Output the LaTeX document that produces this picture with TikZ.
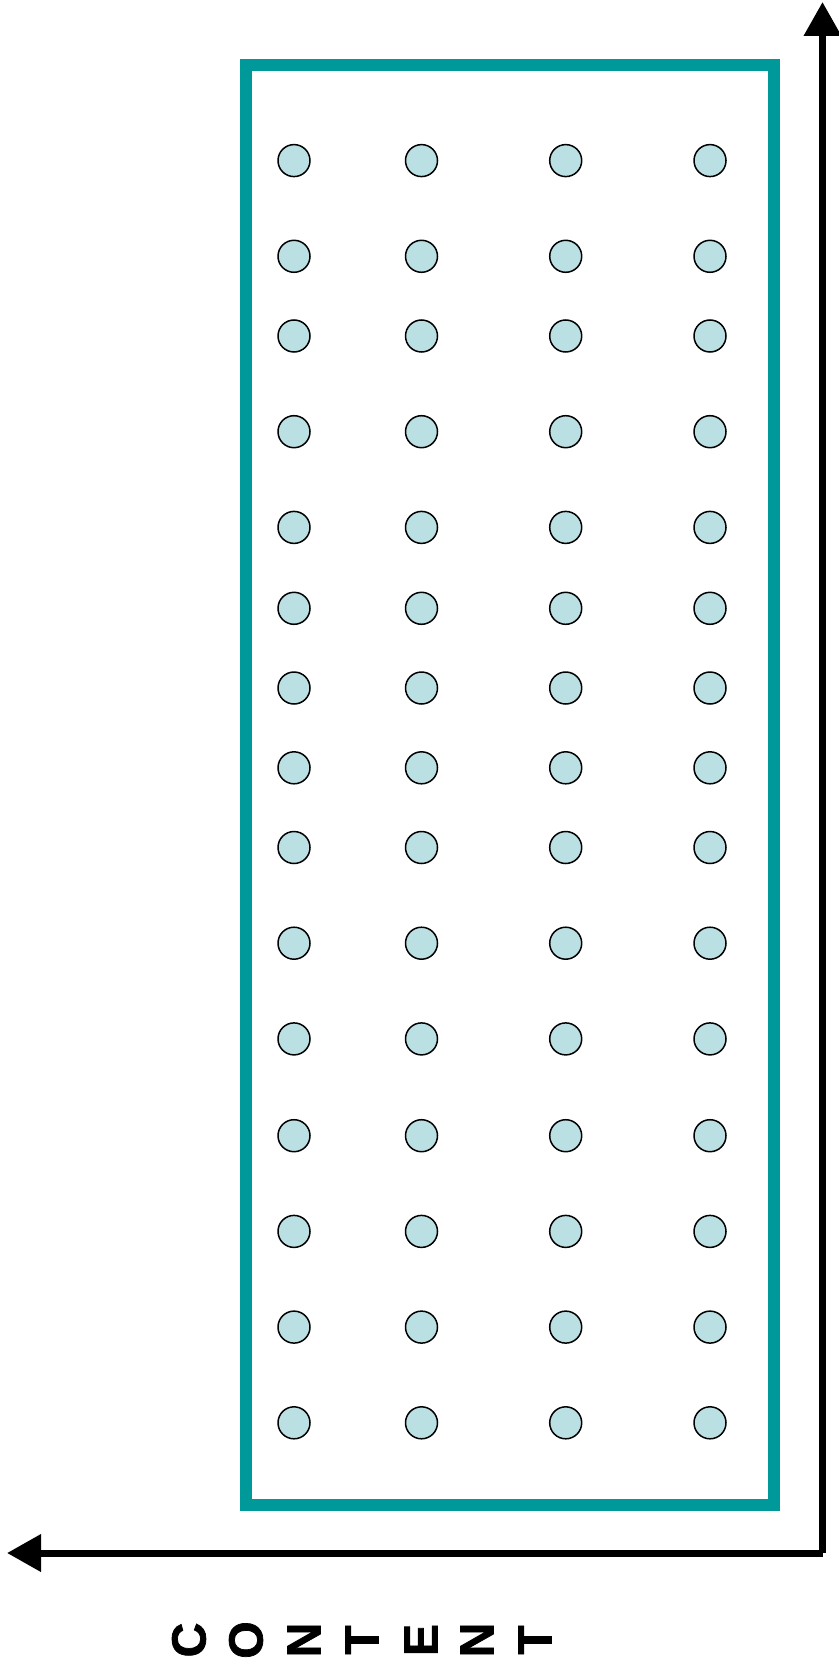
\documentclass[tikz,border=0pt]{standalone}
\usepackage{fontspec}
\setmainfont{Liberation Sans}
\newfontfamily\heavyfont[FakeBold=1.5]{Liberation Sans Bold}
\usetikzlibrary{arrows.meta}
\definecolor{teal1}{RGB}{0,153,153}
\definecolor{dotfill}{RGB}{186,224,227}
\tikzset{
  dot/.style={circle, draw=black, line width=0.75pt, fill=dotfill, minimum size=16pt, inner sep=0pt},
  frame/.style={draw=teal1, line width=6pt},
  axis/.style={draw=black, line width=3.5pt, -{Triangle[length=17pt,width=18pt]}},
  letter/.style={font=\heavyfont\fontsize{24}{24}\selectfont, rotate=90, inner sep=0pt}
}
\begin{document}
\begin{tikzpicture}[x=0.5pt,y=-0.5pt]
\useasboundingbox (0,0) rectangle (839,1668);
\draw[frame] (246,65) rectangle (774,1505);
\foreach \y [count=\r] in {160.6,256.3,336.0,431.7,527.4,608.3,688.0,767.8,847.5,943.2,1038.9,1135.7,1231.4,1327.1,1422.8}{
  \foreach \x [count=\c] in {294,421.5,565.7,710}{
    \node[dot] (d-\r-\c) at (\x,\y) {};
  }
}
\coordinate (corner) at (822.5,1553);
\coordinate (top) at (822.5,2);
\coordinate (left) at (7,1553);
\draw[axis] (corner) -- (top);
\draw[axis] (corner) -- (left);
\foreach \l/\x [count=\i] in {C/189,O/246,N/304,T/362,E/421,N/477,T/535}{
  \node[letter] (l\i) at (\x,1640) {\l};
}
\end{tikzpicture}
\end{document}
